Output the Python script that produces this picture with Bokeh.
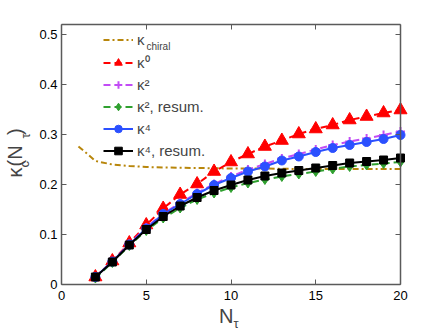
import math
from bokeh.plotting import figure
from bokeh.models import (Legend, LegendItem, Label, LinearAxis, FixedTicker,
                          NumeralTickFormatter, Range1d)
from bokeh.embed import file_html
from bokeh.resources import INLINE

# ---------------- data ----------------
N_tau = [2, 3, 4, 5, 6, 7, 8, 9, 10, 11, 12, 13, 14, 15, 16, 17, 18, 19, 20]

kappa0 = [0.015, 0.047, 0.083, 0.119, 0.152, 0.180, 0.201, 0.226, 0.245, 0.261,
          0.276, 0.288, 0.301, 0.311, 0.319, 0.329, 0.336, 0.343, 0.349]
kappa2 = [0.015, 0.046, 0.081, 0.114, 0.142, 0.163, 0.183, 0.201, 0.216, 0.230,
          0.241, 0.252, 0.261, 0.270, 0.279, 0.286, 0.292, 0.299, 0.306]
kappa2_resum = [0.013, 0.044, 0.078, 0.108, 0.133, 0.153, 0.170, 0.183, 0.194, 0.203,
                0.210, 0.216, 0.221, 0.226, 0.231, 0.236, 0.239, 0.242, 0.245]
kappa4 = [0.015, 0.046, 0.080, 0.112, 0.141, 0.161, 0.181, 0.199, 0.213, 0.226,
          0.236, 0.248, 0.256, 0.265, 0.273, 0.279, 0.285, 0.291, 0.299]
kappa4_resum = [0.015, 0.045, 0.079, 0.110, 0.136, 0.157, 0.174, 0.188, 0.199, 0.209,
                0.217, 0.223, 0.228, 0.233, 0.238, 0.243, 0.246, 0.249, 0.253]

N_chiral = [1, 1.5, 2, 3, 4, 5, 6, 8, 10, 12, 14, 16, 18, 20]
kappa_chiral = [0.276, 0.262, 0.247, 0.240, 0.237, 0.235, 0.234, 0.233, 0.232,
                0.232, 0.231, 0.231, 0.231, 0.231]

x_ticks = [0, 5, 10, 15, 20]
y_ticks = [0, 0.1, 0.2, 0.3, 0.4, 0.5]
X_LIM = (0, 20)
Y_LIM = (0, 0.52)

# ---------------- layout (pixels of the 442x332 picture) ----------------
W, H = 442, 332
BOX_L, BOX_R, BOX_T, BOX_B = 61, 400, 24, 284
sx = (BOX_R - BOX_L) / (X_LIM[1] - X_LIM[0])
sy = (BOX_B - BOX_T) / (Y_LIM[1] - Y_LIM[0])
x_range = Range1d(X_LIM[0] - BOX_L / sx, X_LIM[1] + (W - BOX_R) / sx)
y_range = Range1d(Y_LIM[0] - (H - BOX_B) / sy, Y_LIM[1] + BOX_T / sy)

FONT = "Liberation Sans"
AX = "#5a5a5a"

p = figure(width=W, height=H, min_border=0,
           x_range=x_range, y_range=y_range,
           output_backend="svg", toolbar_location=None)
p.grid.visible = False
p.outline_line_color = None
p.background_fill_color = "white"
p.border_fill_color = "white"


def style_axis(ax, ticks, loc, bounds, labels=True):
    ax.ticker = FixedTicker(ticks=ticks)
    ax.fixed_location = loc
    ax.bounds = bounds
    ax.axis_line_color = AX
    ax.axis_line_width = 1.5
    ax.major_tick_line_color = AX
    ax.major_tick_line_width = 1
    ax.major_tick_in = 5
    ax.major_tick_out = 0
    ax.minor_tick_line_color = None
    ax.major_label_text_font = FONT
    ax.major_label_text_font_size = "13px"
    ax.major_label_text_color = "black" if labels else None


style_axis(p.xaxis[0], x_ticks, Y_LIM[0], X_LIM)
style_axis(p.yaxis[0], y_ticks, X_LIM[0], Y_LIM)
p.yaxis[0].formatter = NumeralTickFormatter(format="0.[0]")
p.xaxis[0].major_label_standoff = 6
p.yaxis[0].major_label_standoff = 4

ax_r = LinearAxis()
style_axis(ax_r, y_ticks, X_LIM[1], Y_LIM, labels=False)
ax_t = LinearAxis()
style_axis(ax_t, x_ticks, Y_LIM[1], X_LIM, labels=False)
p.add_layout(ax_r, "right")
p.add_layout(ax_t, "above")

# ---------------- series ----------------
C_CHI = "#b8860b"
C_RED = "#ff0000"
C_PUR = "#c24cf5"
C_GRN = "#2fa02f"
C_BLU = "#2b50ff"
C_BLK = "#000000"

r_chi = p.line(N_chiral, kappa_chiral, line_color=C_CHI, line_width=2,
               line_dash="6 3 2 3")

l0 = p.line(N_tau, kappa0, line_color=C_RED, line_width=2, line_dash="7 4")
m0 = p.scatter(N_tau, kappa0, marker="triangle", size=13, color=C_RED)

l2 = p.line(N_tau, kappa2, line_color=C_PUR, line_width=2, line_dash="7 4")
m2 = p.scatter(N_tau, kappa2, marker="cross", size=9, line_color=C_PUR, line_width=2)

l2r = p.line(N_tau, kappa2_resum, line_color=C_GRN, line_width=2, line_dash="7 4")
m2r = p.scatter(N_tau, kappa2_resum, marker="diamond", size=10, color=C_GRN)

l4 = p.line(N_tau, kappa4, line_color=C_BLU, line_width=2)
m4 = p.scatter(N_tau, kappa4, marker="circle", size=9, color=C_BLU)

l4r = p.line(N_tau, kappa4_resum, line_color=C_BLK, line_width=2)
m4r = p.scatter(N_tau, kappa4_resum, marker="square", size=8, color=C_BLK)

legend = Legend(items=[
    LegendItem(label="κ", renderers=[r_chi]),
    LegendItem(label="κ⁰", renderers=[l0, m0]),
    LegendItem(label="κ²", renderers=[l2, m2]),
    LegendItem(label="κ², resum.", renderers=[l2r, m2r]),
    LegendItem(label="κ⁴", renderers=[l4, m4]),
    LegendItem(label="κ⁴, resum.", renderers=[l4r, m4r]),
], location=(103, H - 160), orientation="vertical", padding=0, margin=0,
   spacing=3, glyph_width=30, glyph_height=19, label_height=19,
   label_standoff=4, label_text_font=FONT, label_text_font_size="15px",
   background_fill_alpha=0, border_line_alpha=0)
p.add_layout(legend, "center")


def lab(x, y, text, size, angle=0.0, baseline="alphabetic"):
    """x, y: picture pixels from the top-left corner."""
    p.add_layout(Label(x=x, y=H - y, x_units="screen", y_units="screen",
                       text=text, text_font=FONT, text_font_size=size,
                       angle=angle, angle_units="rad", level="overlay",
                       text_align="left", text_baseline=baseline))


# subscript of kappa_chiral in the legend
lab(146, 46, "chiral", "10px")

# x label  N_tau
lab(218.5, 315, "N", "20px")
lab(233, 323, "τ", "13px")

# y label  kappa_c(N_tau), rotated (reads bottom to top); anchors at text middle
A = math.pi / 2
lab(14.5, 177, "κ", "20px", A, "middle")
lab(24, 167, "c", "13px", A, "middle")
lab(14.5, 166, "(N", "20px", A, "middle")
lab(25, 138, "τ", "13px", A, "middle")
lab(14.5, 134.5, ")", "20px", A, "middle")

open("out.html", "w").write(file_html(p, INLINE))
